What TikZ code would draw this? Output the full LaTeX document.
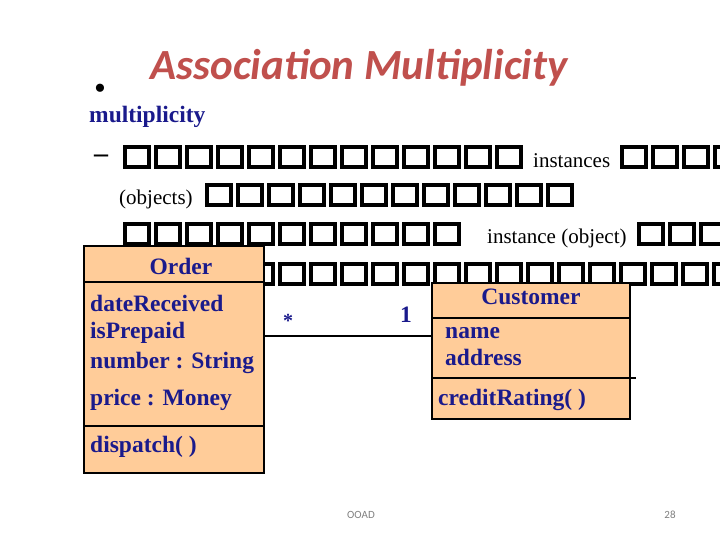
\documentclass[tikz,border=0pt]{standalone}
\usepackage{fontspec}
\setmainfont{Liberation Serif}
\newfontfamily\calib{Carlito}
\definecolor{titler}{HTML}{C0504D}
\definecolor{navy}{HTML}{1A1A8C}
\definecolor{umlfill}{HTML}{FFCC99}
\begin{document}
\begin{tikzpicture}[x=1pt,y=-1pt,
  tofu/.style={draw=black,line width=3.5pt,minimum width=24pt,minimum height=20pt,inner sep=0pt},
  umltxt/.style={anchor=west,text=navy,font=\fontsize{23.5}{25}\selectfont\bfseries,inner sep=0pt},
  umlbox/.style={draw=black,line width=1.5pt,fill=umlfill},
  small/.style={font=\fontsize{21}{23}\selectfont,inner sep=0pt}]
\useasboundingbox[fill=white] (0,0) rectangle (720,540);
\node[text=titler,font=\calib\fontsize{43}{46}\selectfont\bfseries\itshape] (title) at (359,68) {Association Multiplicity};
\node[font=\fontsize{34}{36}\selectfont] (bul) at (100,92) {•};
\node[anchor=west,text=navy,font=\fontsize{23.5}{25}\selectfont\bfseries,inner sep=0pt] (mult) at (89,117) {multiplicity};
\node[font=\fontsize{28}{30}\selectfont\bfseries] (dash) at (101,159) {--};
% row1
\foreach \i in {0,...,12}{\node[tofu] at (137+31*\i,157) {};}
\foreach \i in {0,...,3}{\node[tofu] at (634+31*\i,157) {};}
\node[small,anchor=west] (inst) at (533,161) {instances};
% row2
\node[small,anchor=west] (obj) at (119,199) {(objects)};
\foreach \i in {0,...,11}{\node[tofu] at (219+31*\i,195) {};}
% row3
\foreach \i in {0,...,10}{\node[tofu] at (137+31*\i,234) {};}
\foreach \i in {0,...,2}{\node[tofu] at (651+31*\i,234) {};}
\node[small,anchor=west] (insto) at (487,238) {instance (object)};
% row4
\foreach \i in {0,...,19}{\node[tofu] at (137+31*\i,274) {};}
% Order box
\draw[umlbox] (84,246) rectangle (264,473);
\draw[line width=1.5pt] (84,282) -- (264,282) (84,426) -- (264,426);
\node[text=navy,font=\fontsize{23.5}{25}\selectfont\bfseries] (order) at (181,266) {Order};
\node[umltxt] (a1) at (90,303) {dateReceived};
\node[umltxt] (a2) at (90,333) {isPrepaid};
\node[umltxt] (a3) at (90,363) {number : String};
\node[umltxt] (a4) at (90,400) {price : Money};
\node[umltxt] (op1) at (90,447) {dispatch( )};
% Customer box
\draw[umlbox] (432,283) rectangle (630,419);
\draw[line width=1.5pt] (432,318) -- (630,318) (432,378) -- (636,378);
\node[text=navy,font=\fontsize{23.5}{25}\selectfont\bfseries] (cust) at (531,297) {Customer};
\node[umltxt] (c1) at (445,333) {name};
\node[umltxt] (c2) at (445,357) {address};
\node[umltxt] (cop) at (438,400) {creditRating( )};
% association
\coordinate (L) at (264,336); \coordinate (R) at (432,336);
\draw[line width=1.2pt] (L) -- (R);
\node[text=navy,font=\fontsize{20}{22}\selectfont\bfseries] (star) at (288,321) {*};
\node[text=navy,font=\fontsize{23.5}{25}\selectfont\bfseries] (one) at (406,315) {1};
% footer
\node[text=gray,font=\calib\fontsize{11}{13}\selectfont] (ft) at (361,515) {OOAD};
\node[text=gray,font=\calib\fontsize{11}{13}\selectfont] (pg) at (670,515) {28};
\end{tikzpicture}
\end{document}
